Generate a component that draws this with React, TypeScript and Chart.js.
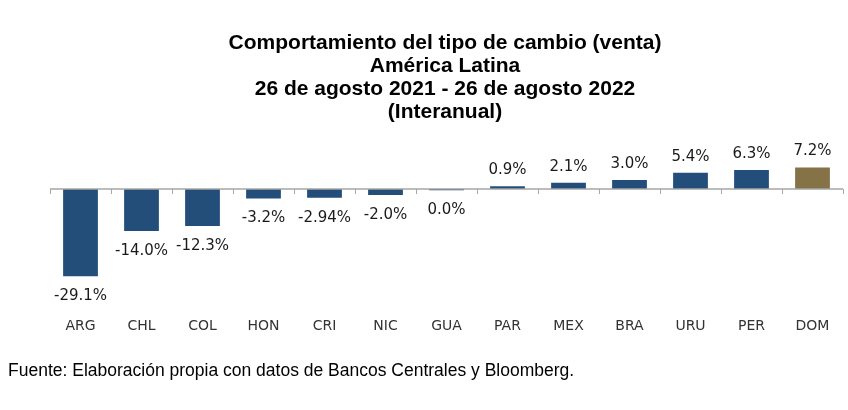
import React, { useEffect, useRef } from 'react';
import { Chart, registerables } from 'chart.js';

Chart.register(...registerables);

const titleLines = [
  'Comportamiento del tipo de cambio (venta)',
  'América Latina',
  '26 de agosto 2021 - 26 de agosto 2022',
  '(Interanual)',
];
const categories = ['ARG', 'CHL', 'COL', 'HON', 'CRI', 'NIC', 'GUA', 'PAR', 'MEX', 'BRA', 'URU', 'PER', 'DOM'];
const values = [-29.1, -14.0, -12.3, -3.2, -2.94, -2.0, -0.4, 0.9, 2.1, 3.0, 5.4, 6.3, 7.2];
const valueLabels = ['-29.1%', '-14.0%', '-12.3%', '-3.2%', '-2.94%', '-2.0%', '0.0%', '0.9%', '2.1%', '3.0%', '5.4%', '6.3%', '7.2%'];
const highlighted = ['DOM'];
const footerText = 'Fuente: Elaboración propia con datos de Bancos Centrales y Bloomberg.';

const BLUE = '#234e7a';
const GOLD = '#857347';

const labelPlugin = {
  id: 'customDecor',
  afterDatasetsDraw(chart: any) {
    const { ctx, scales } = chart;
    const x = scales.x;
    const y = scales.y;
    const zeroY = y.getPixelForValue(0);
    ctx.save();
    ctx.strokeStyle = '#a6a6a6';
    ctx.lineWidth = 1.5;
    ctx.beginPath();
    ctx.moveTo(chart.chartArea.left, zeroY);
    ctx.lineTo(chart.chartArea.right, zeroY);
    ctx.stroke();
    ctx.lineWidth = 1;
    const n = categories.length;
    const step = x.getPixelForValue(1) - x.getPixelForValue(0);
    for (let i = 0; i <= n; i++) {
      const px = i < n ? x.getPixelForValue(i) - step / 2 : chart.chartArea.right;
      ctx.beginPath();
      ctx.moveTo(Math.round(px) + 0.5, zeroY);
      ctx.lineTo(Math.round(px) + 0.5, zeroY + 5);
      ctx.stroke();
    }
    const meta = chart.getDatasetMeta(0);
    ctx.fillStyle = '#1a1a1a';
    ctx.font = '15px "DejaVu Sans"';
    ctx.textAlign = 'center';
    ctx.textBaseline = 'middle';
    meta.data.forEach((bar: any, i: number) => {
      const v = values[i];
      const ty = v >= 0 ? bar.y - 16 : bar.y + 20;
      ctx.fillText(valueLabels[i], bar.x, ty);
    });
    ctx.restore();
  },
};

export default function App() {
  const canvasRef = useRef<HTMLCanvasElement | null>(null);

  useEffect(() => {
    if (!canvasRef.current) return;
    const chart = new Chart(canvasRef.current, {
      type: 'bar',
      data: {
        labels: categories,
        datasets: [
          {
            data: values,
            backgroundColor: categories.map((c) => (highlighted.includes(c) ? GOLD : BLUE)),
            borderWidth: 0,
            barPercentage: 0.57,
            categoryPercentage: 1,
          },
        ],
      },
      options: {
        animation: false,
        responsive: false,
        maintainAspectRatio: false,
        layout: { padding: { left: 50, right: 5, top: 159, bottom: 71 } },
        plugins: {
          legend: { display: false },
          title: { display: false },
          tooltip: { enabled: false },
        },
        scales: {
          x: {
            grid: { display: false, drawTicks: false },
            border: { display: false },
            ticks: {
              color: '#333333',
              font: { family: '"DejaVu Sans"', size: 14 },
              padding: 9,
              maxRotation: 0,
            },
            afterFit: (scale: any) => {
              scale.height = 30;
            },
          },
          y: {
            display: false,
            min: -40,
            max: 10,
          },
        },
      },
      plugins: [labelPlugin],
    });
    return () => chart.destroy();
  }, []);

  return (
    <div style={{ position: 'fixed', left: 0, top: 0, width: 848, height: 410, background: '#fff', overflow: 'hidden' }}>
      <canvas ref={canvasRef} width={848} height={410} style={{ position: 'absolute', left: 0, top: 0, width: 848, height: 410 }} />
      <div
        style={{
          position: 'absolute',
          left: 20,
          top: 30,
          width: 850,
          textAlign: 'center',
          fontFamily: '"Liberation Sans", Arial, sans-serif',
          fontWeight: 'bold',
          fontSize: 21,
          lineHeight: '23px',
          color: '#000',
        }}
      >
        {titleLines.map((t, i) => (
          <div key={i}>{t}</div>
        ))}
      </div>
      <div
        style={{
          position: 'absolute',
          left: 8,
          top: 360,
          fontFamily: '"Liberation Sans", Arial, sans-serif',
          fontSize: 17.5,
          lineHeight: '20px',
          color: '#000',
          whiteSpace: 'nowrap',
        }}
      >
        {footerText}
      </div>
    </div>
  );
}
